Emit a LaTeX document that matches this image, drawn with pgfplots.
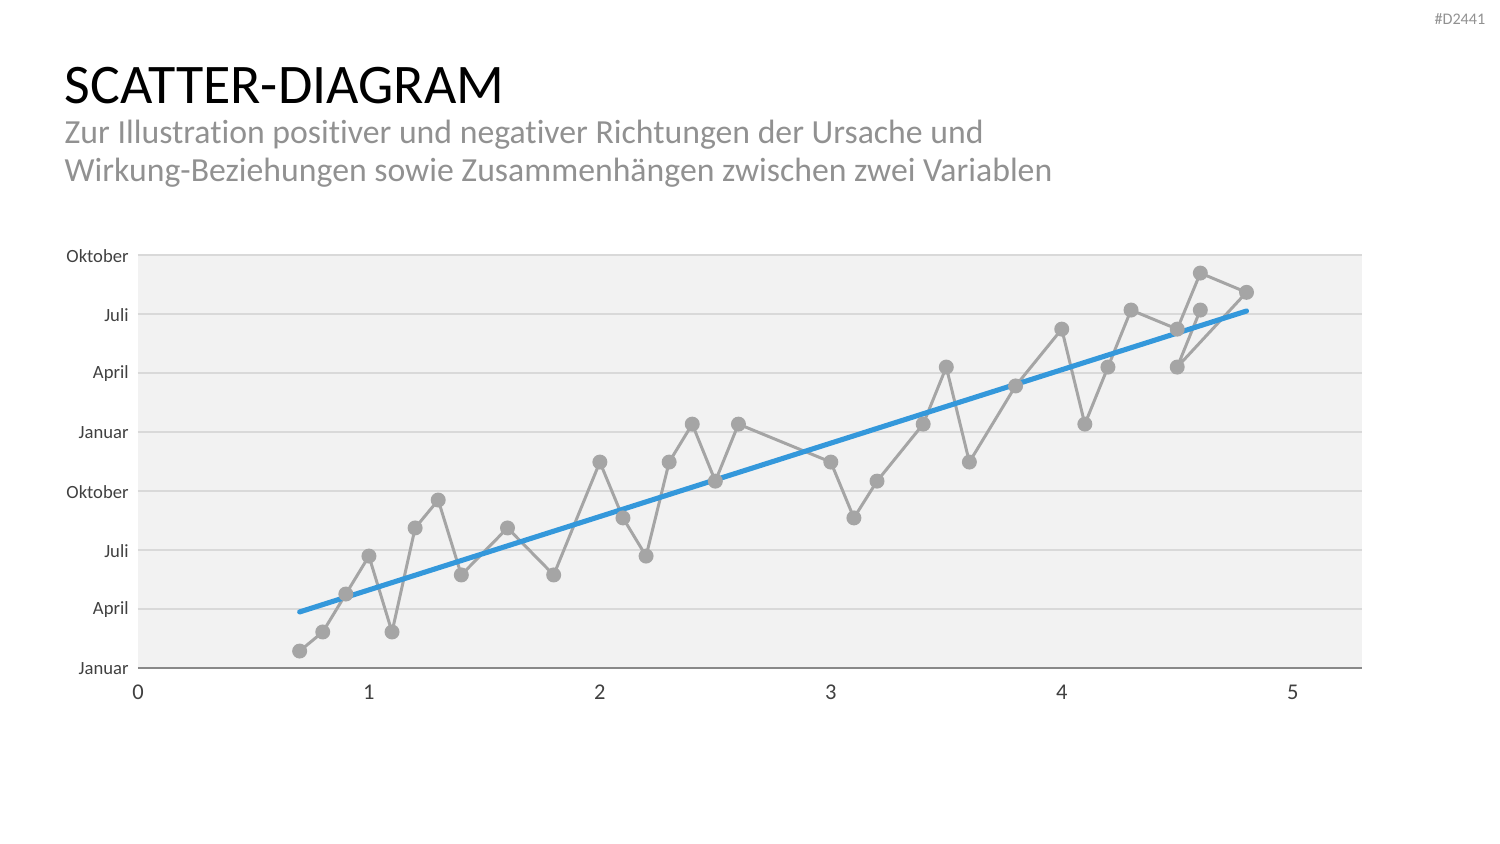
\documentclass[border=0pt]{standalone}
\usepackage{pgfplots}
\pgfplotsset{compat=1.18}
\usepackage{fontspec}
\setmainfont{Carlito}[Ligatures={NoCommon}]
\definecolor{bgc}{HTML}{F2F2F2}
\definecolor{gridc}{HTML}{D9D9D9}
\definecolor{axc}{HTML}{898989}
\definecolor{ptc}{HTML}{A5A5A5}
\definecolor{trend}{HTML}{3498DB}
\definecolor{subc}{HTML}{919191}
\definecolor{tickc}{HTML}{404040}
\begin{document}
\begin{tikzpicture}
\path[use as bounding box] (0,0) rectangle (15,8.44);
\node[anchor=base west, inner sep=0pt, font=\fontsize{15.9}{19}\selectfont] at (0.64,7.40) {SCATTER-DIAGRAM};
\node[anchor=base west, inner sep=0pt, align=left, text=subc, font=\fontsize{9.6}{10.6}\selectfont] at (0.64,7.00) {Zur Illustration positiver und negativer Richtungen der Ursache und};
\node[anchor=base west, inner sep=0pt, align=left, text=subc, font=\fontsize{9.6}{10.6}\selectfont] at (0.64,6.62) {Wirkung-Beziehungen sowie Zusammenhängen zwischen zwei Variablen};
\node[anchor=base east, inner sep=0pt, text=subc, font=\fontsize{4.6}{5}\selectfont] at (14.86,8.19) {\#D2441};
\begin{axis}[
  at={(1.38cm,1.76cm)}, anchor=south west,
  scale only axis, width=12.24cm, height=4.13cm,
  xmin=0, xmax=5.3, ymin=0, ymax=21,
  xtick={0,1,2,3,4,5},
  ytick={0,3,6,9,12,15,18,21},
  yticklabels={Januar,April,Juli,Oktober,Januar,April,Juli,Oktober},
  axis background/.style={fill=bgc},
  axis line style={draw=none},
  ymajorgrids, grid style={gridc, line width=0.5pt},
  major tick length=0pt,
  tick label style={text=tickc},
  yticklabel style={font=\fontsize{5.3}{6}\selectfont, xshift=0.3mm, yshift=-0.1mm},
  xticklabel style={font=\fontsize{6.4}{7}\selectfont, yshift=-0.5mm},
  /pgf/number format/assume math mode=true,
  clip=false,
]
\addplot[ptc, line width=0.85pt, mark=*, mark size=1.7pt, mark options={fill=ptc, draw=ptc}] coordinates {
(0.7,0.86) (0.8,1.83) (0.9,3.76) (1.0,5.69) (1.1,1.83) (1.2,7.12) (1.3,8.54)
(1.4,4.73) (1.6,7.12) (1.8,4.73) (2.0,10.47) (2.1,7.63) (2.2,5.69) (2.3,10.47)
(2.4,12.4) (2.5,9.5) (2.6,12.4) (3.0,10.47) (3.1,7.63) (3.2,9.5) (3.4,12.4)
(3.5,15.3) (3.6,10.47) (3.8,14.34) (4.0,17.23) (4.1,12.4) (4.2,15.3) (4.3,18.2)
(4.5,17.23) (4.6,20.08) (4.8,19.1) (4.5,15.3) (4.6,18.2)
};
\addplot[trend, line width=1.45pt, line cap=round] coordinates {(0.7,2.85) (4.8,18.15)};
\draw[axc, line width=0.7pt] (axis cs:0,0) -- (axis cs:5.3,0);
\end{axis}
\end{tikzpicture}
\end{document}
